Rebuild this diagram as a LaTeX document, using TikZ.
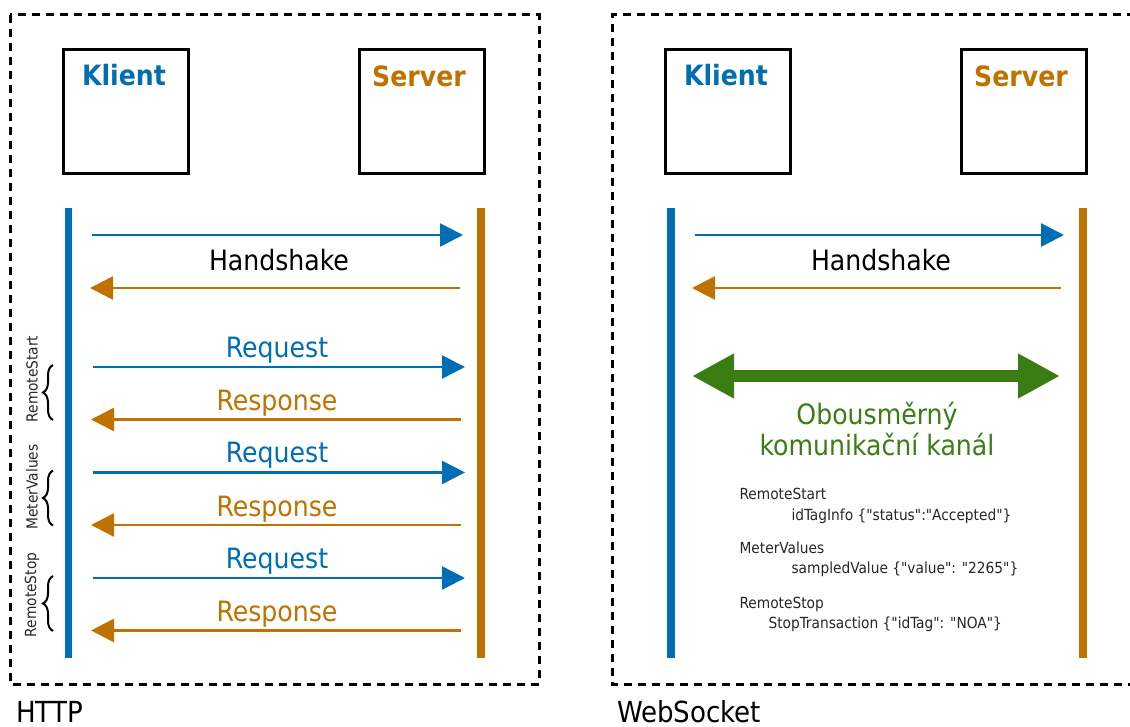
\documentclass[tikz,border=0pt]{standalone}
\usepackage{fontspec}
\setmainfont{DejaVu Sans Condensed}
% plain family without TeX ligatures, so that " stays a straight quote
\newfontfamily\codefont{DejaVu Sans Condensed}
\usetikzlibrary{arrows.meta,decorations.pathreplacing}
\definecolor{cblue}{RGB}{0,110,180}
\definecolor{corange}{RGB}{192,114,0}
\definecolor{cgreen}{RGB}{58,125,18}
\tikzset{
  frame/.style={draw=black, line width=3pt, dash pattern=on 8pt off 6pt},
  actor/.style={draw=black, line width=3pt, minimum width=125pt, minimum height=124pt, inner sep=0pt},
  actorname/.style={anchor=base, font=\fontsize{28}{32}\selectfont\bfseries},
  life/.style={line width=7.5pt},
  msg/.style={line width=2.6pt, -{Triangle[length=23pt,width=23pt]}},
  msgtxt/.style={anchor=base, font=\fontsize{28}{32}\selectfont},
  small/.style={font=\codefont\fontsize{15.3}{17}\selectfont, text=black!85},
  callbrace/.style={decorate, decoration={brace, amplitude=10pt}, line width=2pt},
  proto/.style={anchor=base west, inner sep=0pt, text depth=0pt, font=\fontsize{29}{33}\selectfont},
}
\begin{document}
\begin{tikzpicture}[x=1pt, y=-1pt]
\useasboundingbox (0,0) rectangle (1130,727);

% ---------------- HTTP ----------------
\draw[frame] (10,15) rectangle (539,684);
\node[proto] (http) at (16,722) {HTTP};

\node[actor] (hk) at (125.5,112) {};
\node[actor] (hs) at (421.5,112) {};
\node[actorname, text=cblue] (hkt) at (124,86) {Klient};
\node[actorname, text=corange] (hst) at (419,87) {Server};

\coordinate (hkTop) at (68.5,208);  \coordinate (hkBot) at (68.5,658);
\coordinate (hsTop) at (481,208);   \coordinate (hsBot) at (481,658);
\draw[life, cblue] (hkTop) -- (hkBot);
\draw[life, corange] (hsTop) -- (hsBot);

% handshake
\coordinate (ha1) at (92,235);  \coordinate (ha2) at (463,235);
\coordinate (hb1) at (460,288); \coordinate (hb2) at (90,288);
\draw[msg, cblue] (ha1) -- (ha2);
\draw[msg, corange] (hb1) -- (hb2);
\node[msgtxt] (hhs) at (279,271) {Handshake};

% request / response pairs
\foreach \i/\y in {1/367, 2/472.5, 3/578}{
  \coordinate (rq\i a) at (93,\y);
  \coordinate (rq\i b) at (465,\y);
  \coordinate (rs\i a) at (461,\y+52.5);
  \coordinate (rs\i b) at (91,\y+52.5);
  \draw[msg, cblue] (rq\i a) -- (rq\i b);
  \draw[msg, corange] (rs\i a) -- (rs\i b);
  \node[msgtxt, text=cblue] (rqt\i) at (277,\y-10) {Request};
  \node[msgtxt, text=corange] (rst\i) at (277,\y+43.5) {Response};
  \coordinate (br\i a) at (53,\y+53);
  \coordinate (br\i b) at (53,\y-2);
  \draw[callbrace] (br\i a) -- (br\i b);
}
\node[small, rotate=90] (lbl1) at (32,379) {RemoteStart};
\node[small, rotate=90] (lbl2) at (32,487) {MeterValues};
\node[small, rotate=90] (lbl3) at (32,595) {RemoteStop};

% ---------------- WebSocket ----------------
\draw[frame] (1135,15) -- (612,15) -- (612,684) -- (1135,684);
\node[proto] (ws) at (617,722) {WebSocket};

\node[actor] (wk) at (727.5,112) {};
\node[actor] (wsv) at (1023.5,112) {};
\node[actorname, text=cblue] (wkt) at (726,86) {Klient};
\node[actorname, text=corange] (wst) at (1021,87) {Server};

\coordinate (wkTop) at (671,208);  \coordinate (wkBot) at (671,658);
\coordinate (wsTop) at (1083,208); \coordinate (wsBot) at (1083,658);
\draw[life, cblue] (wkTop) -- (wkBot);
\draw[life, corange] (wsTop) -- (wsBot);

\coordinate (wa1) at (695,235);  \coordinate (wa2) at (1064,235);
\coordinate (wb1) at (1061,288); \coordinate (wb2) at (692,288);
\draw[msg, cblue] (wa1) -- (wa2);
\draw[msg, corange] (wb1) -- (wb2);
\node[msgtxt] (whs) at (881,271) {Handshake};

% full-duplex channel
\coordinate (ch1) at (692,376); \coordinate (ch2) at (1060,376);
\draw[cgreen, line width=12pt, {Triangle[length=42pt,width=42pt]}-{Triangle[length=42pt,width=42pt]}] (ch1) -- (ch2);
\node[msgtxt, text=cgreen] (ch3) at (877,424) {Obousměrný};
\node[msgtxt, text=cgreen] (ch4) at (877,455) {komunikační kanál};

% example messages
\node[small, anchor=base west] (m1) at (736,499) {RemoteStart};
\node[small, anchor=base west] (m1d) at (788,520) {idTagInfo \{"status":"Accepted"\}};
\node[small, anchor=base west] (m2) at (736,553) {MeterValues};
\node[small, anchor=base west] (m2d) at (788,573) {sampledValue \{"value": "2265"\}};
\node[small, anchor=base west] (m3) at (736,608) {RemoteStop};
\node[small, anchor=base west] (m3d) at (765,628) {StopTransaction \{"idTag": "NOA"\}};
\end{tikzpicture}
\end{document}
